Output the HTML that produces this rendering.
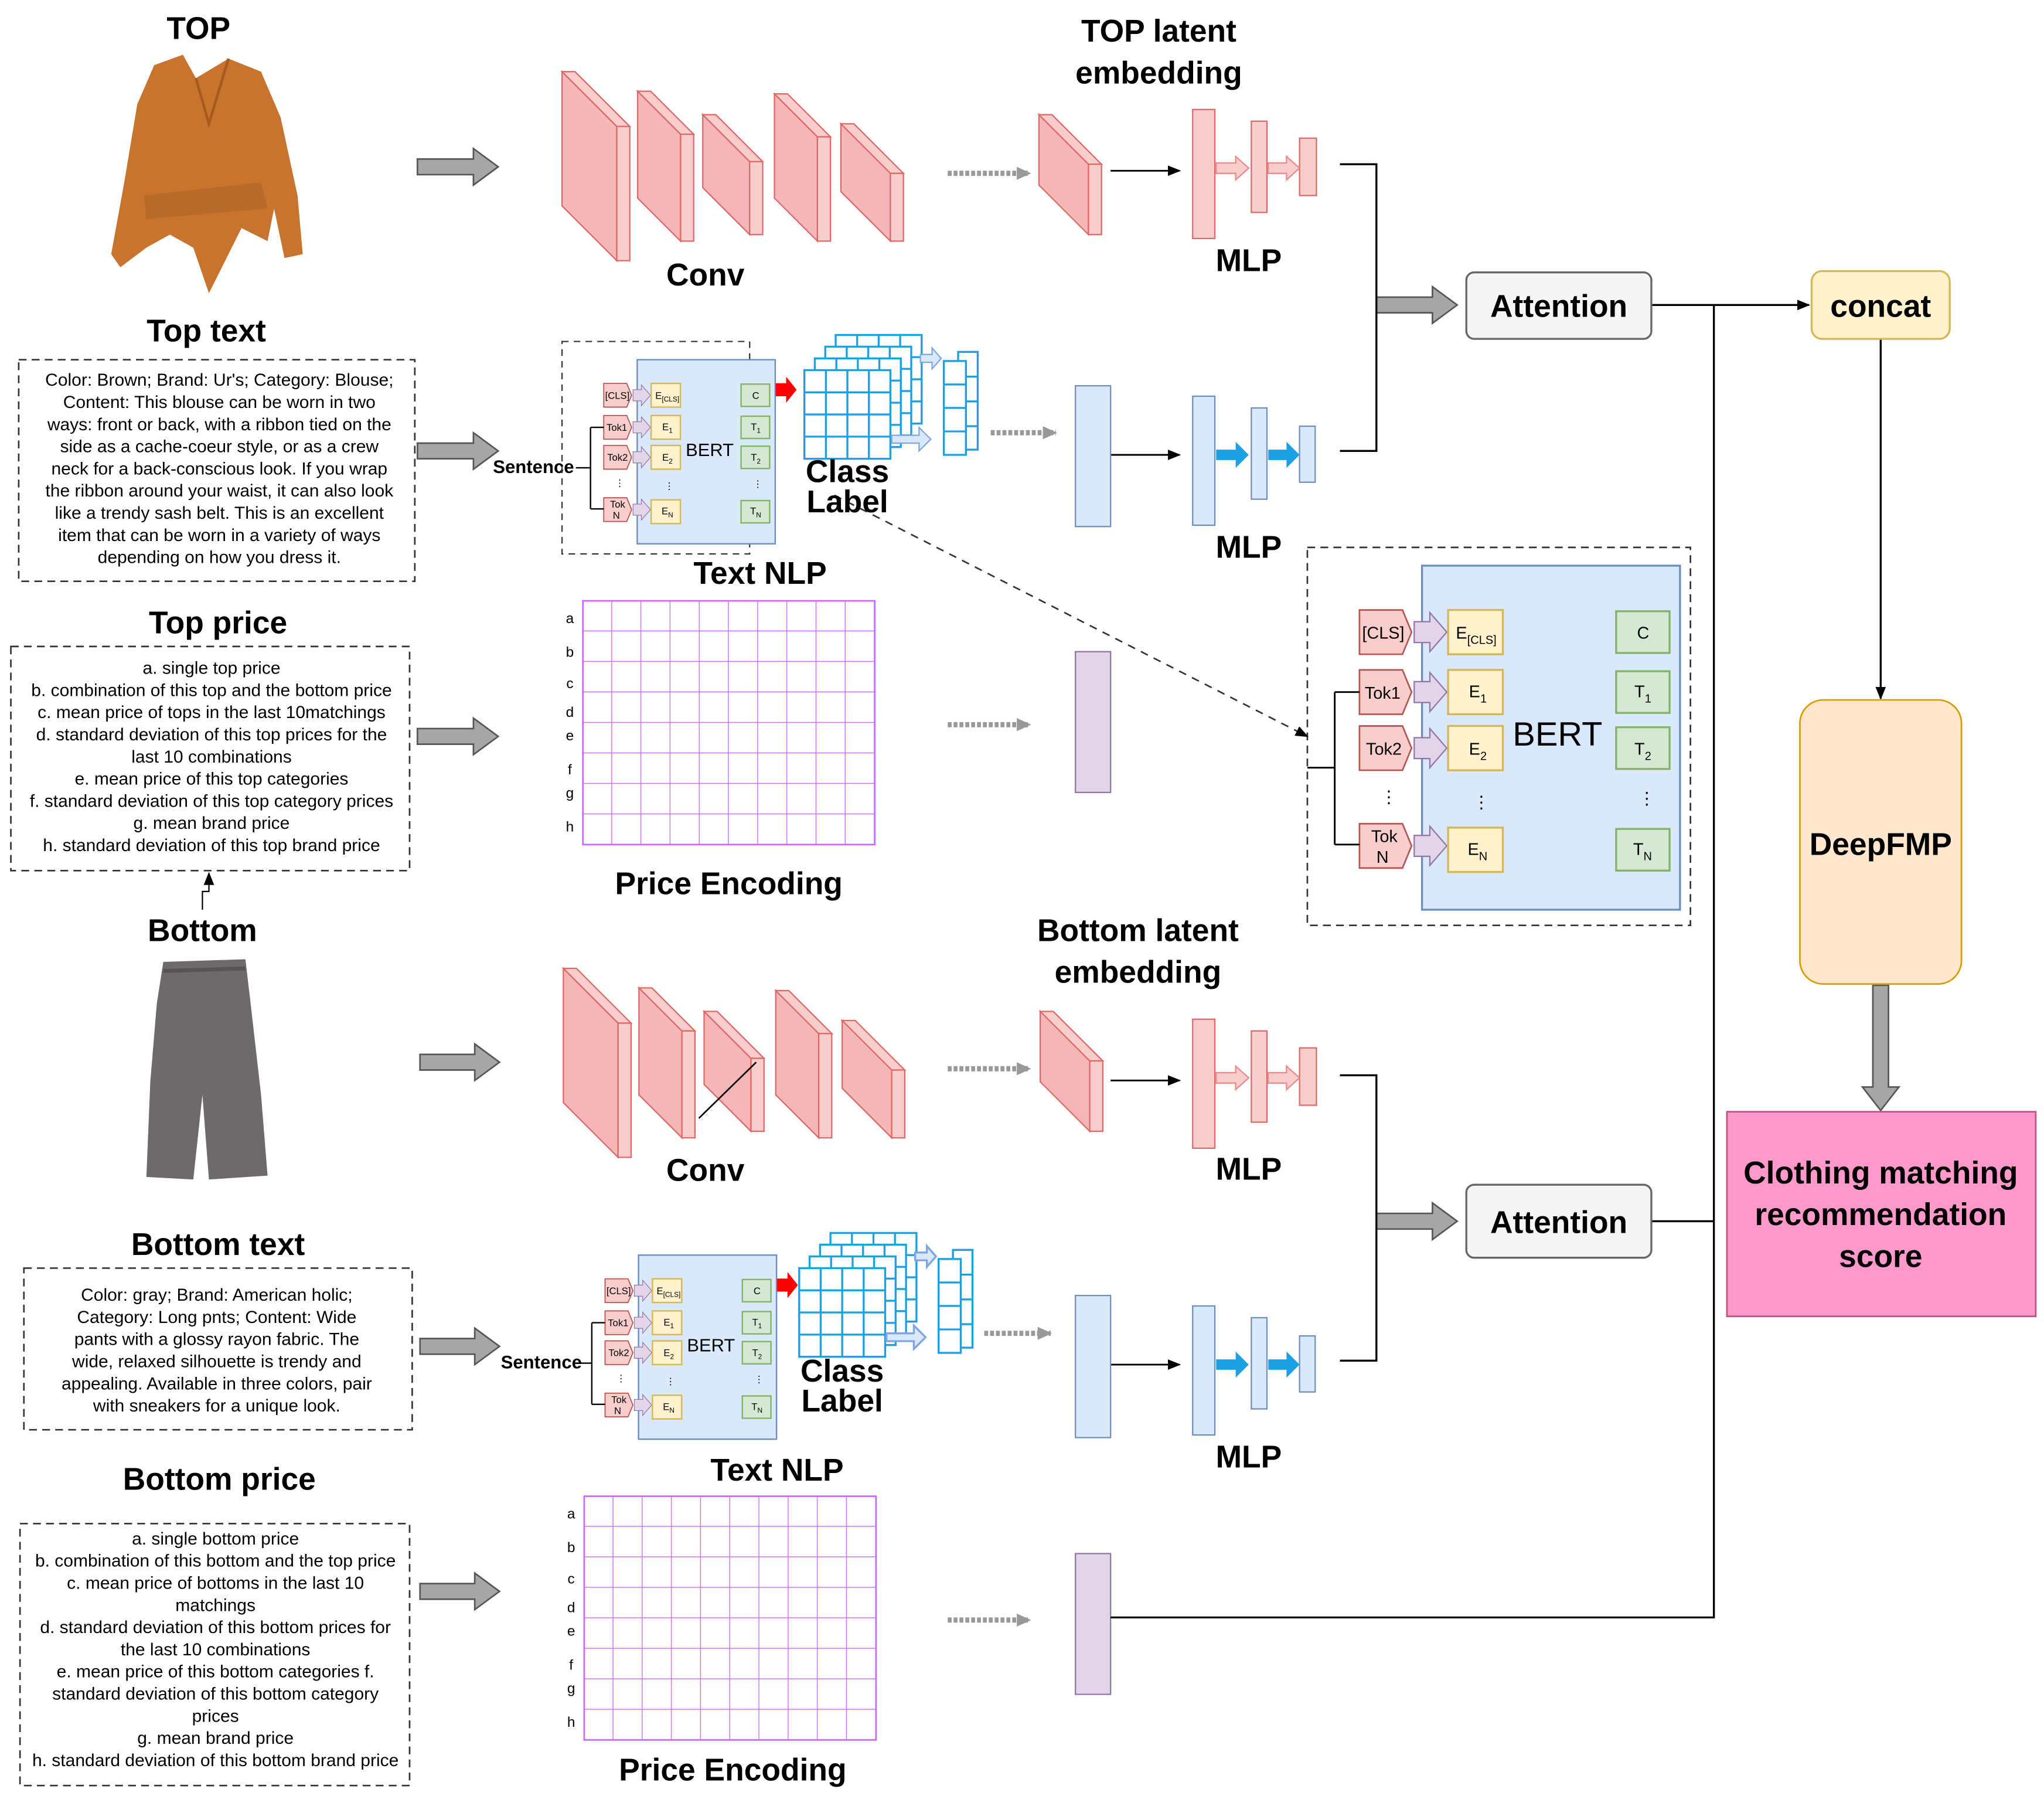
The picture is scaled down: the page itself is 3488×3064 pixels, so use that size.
<!DOCTYPE html>
<html><head><meta charset="utf-8"><style>
html,body{margin:0;padding:0;background:#fff}
svg{display:block}
text{font-family:"Liberation Sans",Arial,sans-serif}
.h{font-weight:bold;font-size:24px;text-anchor:middle}
.t{font-size:13.5px;text-anchor:middle}
.sm{font-size:10px}
</style></head><body>
<svg width="3488" height="3064" viewBox="0 0 1568 1378" xmlns="http://www.w3.org/2000/svg">
<defs>
<pattern id="pg" x="447" y="461" width="22.4" height="23.4" patternUnits="userSpaceOnUse"><path d="M22.4 0V23.4M0 23.4H22.4" stroke="#cc66ff" stroke-width="1.2" fill="none"/></pattern>
<pattern id="pg2" x="448" y="1148" width="22.4" height="23.4" patternUnits="userSpaceOnUse"><path d="M22.4 0V23.4M0 23.4H22.4" stroke="#cc66ff" stroke-width="1.2" fill="none"/></pattern>
<marker id="ah" markerWidth="10" markerHeight="10" refX="9" refY="5" orient="auto" markerUnits="userSpaceOnUse"><path d="M0 1L10 5L0 9z" fill="#000"/></marker>
<marker id="ag" markerWidth="12" markerHeight="12" refX="10" refY="6" orient="auto" markerUnits="userSpaceOnUse"><path d="M0 1L11 6L0 11z" fill="#999"/></marker>
</defs>

<!-- headings -->
<text class="h" x="152" y="30" font-size="26">TOP</text>
<text class="h" x="158" y="262" font-size="26">Top text</text>
<text class="h" x="167" y="486" font-size="26">Top price</text>
<text class="h" x="155" y="722" font-size="26">Bottom</text>
<text class="h" x="167" y="963" font-size="26">Bottom text</text>
<text class="h" x="168" y="1143" font-size="26">Bottom price</text>
<text class="h" x="889" y="32" font-size="26">TOP latent</text>
<text class="h" x="889" y="64" font-size="26">embedding</text>
<text class="h" x="873" y="722" font-size="26">Bottom latent</text>
<text class="h" x="873" y="754" font-size="26">embedding</text>
<text class="h" x="541" y="219" font-size="26">Conv</text>
<text class="h" x="541" y="906" font-size="26">Conv</text>
<text class="h" x="958" y="208" font-size="25">MLP</text>
<text class="h" x="958" y="428" font-size="25">MLP</text>
<text class="h" x="958" y="905" font-size="25">MLP</text>
<text class="h" x="958" y="1126" font-size="25">MLP</text>
<text class="h" x="583" y="448" font-size="25">Text NLP</text>
<text class="h" x="596" y="1136" font-size="25">Text NLP</text>
<text class="h" x="559" y="686" font-size="25">Price Encoding</text>
<text class="h" x="562" y="1366" font-size="25">Price Encoding</text>

<!-- top shirt -->
<path d="M118 50 L140 42 L150 60 L175 45 L200 55 L215 90 L228 150 L232 195 L218 198 L210 160 L205 185 L185 175 L170 205 L160 225 L148 190 L130 180 L112 190 L92 205 L85 195 L95 140 L105 80 Z" fill="#c8742e"/>
<path d="M150 60 L160 95 L175 45" fill="none" stroke="#a55a1e" stroke-width="2"/>
<path d="M110 150 L200 140 L205 160 L112 168Z" fill="#b86a28"/>
<!-- pants -->
<path d="M125 738 L188 736 L192 770 L200 840 L205 902 L160 905 L155 840 L148 905 L112 903 L115 830 L120 770 Z" fill="#6e6a6c"/>
<path d="M125 745 L188 743" stroke="#555" stroke-width="3"/>

<!-- text boxes -->
<g fill="none" stroke="#333" stroke-dasharray="6 4" stroke-width="1.2">
<rect x="14" y="276" width="304" height="170"/>
<rect x="8" y="496" width="306" height="172"/>
<rect x="18" y="973" width="298" height="124"/>
<rect x="15" y="1169" width="299" height="201"/>
</g>
<g class="t">
<text x="168" y="296">Color: Brown; Brand: Ur's; Category: Blouse;</text>
<text x="168" y="313">Content: This blouse can be worn in two</text>
<text x="168" y="330">ways: front or back, with a ribbon tied on the</text>
<text x="168" y="347">side as a cache-coeur style, or as a crew</text>
<text x="168" y="364">neck for a back-conscious look. If you wrap</text>
<text x="168" y="381">the ribbon around your waist, it can also look</text>
<text x="168" y="398">like a trendy sash belt. This is an excellent</text>
<text x="168" y="415">item that can be worn in a variety of ways</text>
<text x="168" y="432">depending on how you dress it.</text>

<text x="162" y="517">a. single top price</text>
<text x="162" y="534">b. combination of this top and the bottom price</text>
<text x="162" y="551">c. mean price of tops in the last 10matchings</text>
<text x="162" y="568">d. standard deviation of this top prices for the</text>
<text x="162" y="585">last 10 combinations</text>
<text x="162" y="602">e. mean price of this top categories</text>
<text x="162" y="619">f. standard deviation of this top category prices</text>
<text x="162" y="636">g. mean brand price</text>
<text x="162" y="653">h. standard deviation of this top brand price</text>

<text x="166" y="998">Color: gray; Brand: American holic;</text>
<text x="166" y="1015">Category: Long pnts; Content: Wide</text>
<text x="166" y="1032">pants with a glossy rayon fabric. The</text>
<text x="166" y="1049">wide, relaxed silhouette is trendy and</text>
<text x="166" y="1066">appealing. Available in three colors, pair</text>
<text x="166" y="1083">with sneakers for a unique look.</text>

<text x="165" y="1185">a. single bottom price</text>
<text x="165" y="1202">b. combination of this bottom and the top price</text>
<text x="165" y="1219">c. mean price of bottoms in the last 10</text>
<text x="165" y="1236">matchings</text>
<text x="165" y="1253">d. standard deviation of this bottom prices for</text>
<text x="165" y="1270">the last 10 combinations</text>
<text x="165" y="1287">e. mean price of this bottom categories f.</text>
<text x="165" y="1304">standard deviation of this bottom category</text>
<text x="165" y="1321">prices</text>
<text x="165" y="1338">g. mean brand price</text>
<text x="165" y="1355">h. standard deviation of this bottom brand price</text>
</g>
<path d="M155 698 V684 H160 V670" fill="none" stroke="#000" marker-end="url(#ah)"/>

<!-- big gray arrows -->
<g fill="#a6a6a6" stroke="#555" stroke-width="1.2">
<path d="M320 122 H363 V114 L382 128 L363 142 V134 H320Z"/>
<path d="M320 340 H363 V332 L382 346 L363 360 V352 H320Z"/>
<path d="M320 559 H363 V551 L382 565 L363 579 V571 H320Z"/>
<path d="M322 809 H364 V801 L383 815 L364 829 V821 H322Z"/>
<path d="M322 1027 H364 V1019 L383 1033 L364 1047 V1039 H322Z"/>
<path d="M322 1215 H364 V1207 L383 1221 L364 1235 V1227 H322Z"/>
<path d="M1056 228 H1099 V220 L1118 234 L1099 248 V240 H1056Z"/>
<path d="M1056 931 H1099 V923 L1118 937 L1099 951 V943 H1056Z"/>
<path d="M1437 756 V834 H1429 L1443 852 L1457 834 H1449 V756Z"/>
</g>
<text x="378" y="363" font-size="14" font-weight="bold">Sentence</text>
<text x="384" y="1050" font-size="14" font-weight="bold">Sentence</text>

<!-- conv slabs -->
<g fill="#f4b6b6" stroke="#e06666" stroke-width="1">
<g><path d="M431 55 L473 97 V200 L431 158Z"/><path d="M431 55 L441 55 L483 97 L473 97Z" fill="#f8cecc"/><rect x="473" y="97" width="10" height="103" fill="#f8cecc"/></g>
<g><path d="M489 70 L522 103 V185 L489 152Z"/><path d="M489 70 L499 70 L532 103 L522 103Z" fill="#f8cecc"/><rect x="522" y="103" width="10" height="82" fill="#f8cecc"/></g>
<g><path d="M539 88 L575 124 V180 L539 144Z"/><path d="M539 88 L549 88 L585 124 L575 124Z" fill="#f8cecc"/><rect x="575" y="124" width="10" height="56" fill="#f8cecc"/></g>
<g><path d="M594 72 L627 105 V185 L594 152Z"/><path d="M594 72 L604 72 L637 105 L627 105Z" fill="#f8cecc"/><rect x="627" y="105" width="10" height="80" fill="#f8cecc"/></g>
<g><path d="M645 95 L683 133 V185 L645 147Z"/><path d="M645 95 L655 95 L693 133 L683 133Z" fill="#f8cecc"/><rect x="683" y="133" width="10" height="52" fill="#f8cecc"/></g>
<g><path d="M797 88 L835 126 V180 L797 142Z"/><path d="M797 88 L807 88 L845 126 L835 126Z" fill="#f8cecc"/><rect x="835" y="126" width="10" height="54" fill="#f8cecc"/></g>
</g>
<g fill="#f4b6b6" stroke="#e06666" stroke-width="1" transform="translate(1,688)">
<path d="M431 55 L473 97 V200 L431 158Z"/><path d="M431 55 L441 55 L483 97 L473 97Z" fill="#f8cecc"/><rect x="473" y="97" width="10" height="103" fill="#f8cecc"/>
<path d="M489 70 L522 103 V185 L489 152Z"/><path d="M489 70 L499 70 L532 103 L522 103Z" fill="#f8cecc"/><rect x="522" y="103" width="10" height="82" fill="#f8cecc"/>
<path d="M539 88 L575 124 V180 L539 144Z"/><path d="M539 88 L549 88 L585 124 L575 124Z" fill="#f8cecc"/><rect x="575" y="124" width="10" height="56" fill="#f8cecc"/>
<path d="M594 72 L627 105 V185 L594 152Z"/><path d="M594 72 L604 72 L637 105 L627 105Z" fill="#f8cecc"/><rect x="627" y="105" width="10" height="80" fill="#f8cecc"/>
<path d="M645 95 L683 133 V185 L645 147Z"/><path d="M645 95 L655 95 L693 133 L683 133Z" fill="#f8cecc"/><rect x="683" y="133" width="10" height="52" fill="#f8cecc"/>
<path d="M797 88 L835 126 V180 L797 142Z"/><path d="M797 88 L807 88 L845 126 L835 126Z" fill="#f8cecc"/><rect x="835" y="126" width="10" height="54" fill="#f8cecc"/>
</g>
<line x1="536" y1="858" x2="580" y2="815" stroke="#000" stroke-width="1.2"/>

<!-- dotted arrows -->
<g stroke="#999" stroke-width="4" stroke-dasharray="3 1.5" fill="none" marker-end="url(#ag)">
<line x1="727" y1="133" x2="790" y2="133"/>
<line x1="760" y1="332" x2="810" y2="332"/>
<line x1="727" y1="556" x2="790" y2="556"/>
<line x1="727" y1="820" x2="790" y2="820"/>
<line x1="755" y1="1023" x2="806" y2="1023"/>
<line x1="727" y1="1243" x2="790" y2="1243"/>
</g>

<!-- MLP stacks -->
<g stroke="#000" stroke-width="1.3" marker-end="url(#ah)">
<line x1="852" y1="131" x2="905" y2="131"/>
<line x1="852" y1="349" x2="905" y2="349"/>
<line x1="852" y1="829" x2="905" y2="829"/>
<line x1="852" y1="1047" x2="905" y2="1047"/>
</g>
<g fill="#f8cecc" stroke="#e06666">
<rect x="915" y="84" width="17" height="99"/><rect x="960" y="93" width="12" height="70"/><rect x="997" y="106" width="13" height="44"/>
<rect x="915" y="782" width="17" height="99"/><rect x="960" y="791" width="12" height="70"/><rect x="997" y="804" width="13" height="44"/>
</g>
<g fill="#f8cecc" stroke="#e88" stroke-width="1">
<path d="M933 125 H948 V120 L958 129 L948 138 V133 H933Z"/><path d="M973 125 H987 V120 L997 129 L987 138 V133 H973Z"/>
<path d="M933 823 H948 V818 L958 827 L948 836 V831 H933Z"/><path d="M973 823 H987 V818 L997 827 L987 836 V831 H973Z"/>
</g>
<g fill="#dae8fc" stroke="#6c8ebf">
<rect x="825" y="296" width="27" height="108"/>
<rect x="915" y="304" width="17" height="99"/><rect x="960" y="313" width="12" height="70"/><rect x="997" y="327" width="12" height="43"/>
<rect x="825" y="994" width="27" height="109"/>
<rect x="915" y="1002" width="17" height="99"/><rect x="960" y="1011" width="12" height="70"/><rect x="997" y="1025" width="12" height="43"/>
</g>
<g fill="#1ba1e2">
<path d="M933 345 H948 V339 L958 349 L948 359 V353 H933Z"/><path d="M973 345 H987 V339 L997 349 L987 359 V353 H973Z"/>
<path d="M933 1043 H948 V1037 L958 1047 L948 1057 V1051 H933Z"/><path d="M973 1043 H987 V1037 L997 1047 L987 1057 V1051 H973Z"/>
</g>
<g fill="#e1d5e7" stroke="#9673a6">
<rect x="825" y="500" width="27" height="108"/>
<rect x="825" y="1192" width="27" height="108"/>
</g>

<!-- price grids -->
<rect x="447" y="461" width="224" height="187" fill="url(#pg)" stroke="#cc66ff" stroke-width="1.2"/>
<rect x="448" y="1148" width="224" height="187" fill="url(#pg2)" stroke="#cc66ff" stroke-width="1.2"/>
<g font-size="11" text-anchor="middle">
<text x="437" y="478">a</text><text x="437" y="504">b</text><text x="437" y="528">c</text><text x="437" y="550">d</text><text x="437" y="568">e</text><text x="437" y="594">f</text><text x="437" y="612">g</text><text x="437" y="638">h</text>
<text x="438" y="1165">a</text><text x="438" y="1191">b</text><text x="438" y="1215">c</text><text x="438" y="1237">d</text><text x="438" y="1255">e</text><text x="438" y="1281">f</text><text x="438" y="1299">g</text><text x="438" y="1325">h</text>
</g>

<!-- brackets / connectors -->
<g fill="none" stroke="#000" stroke-width="1.5">
<path d="M1028 126 H1056 V346 H1028"/>
<path d="M1028 825 H1056 V1044 H1028"/>
<path d="M1267 937 H1315"/>
<path d="M1315 234 V1241 H852"/>
</g>
<path d="M1267 234 H1388" stroke="#000" stroke-width="1.5" marker-end="url(#ah)"/>
<path d="M1443 260 V536" stroke="#000" stroke-width="1.5" marker-end="url(#ah)"/>

<rect x="1125" y="209" width="142" height="51" rx="6" fill="#f5f5f5" stroke="#666" stroke-width="1.5"/>
<text class="h" x="1196" y="243" font-size="26">Attention</text>
<rect x="1125" y="909" width="142" height="56" rx="6" fill="#f5f5f5" stroke="#666" stroke-width="1.5"/>
<text class="h" x="1196" y="946" font-size="26">Attention</text>
<rect x="1390" y="208" width="106" height="52" rx="8" fill="#fff2cc" stroke="#d6b656" stroke-width="1.5"/>
<text class="h" x="1443" y="243" font-size="24">concat</text>
<rect x="1381" y="537" width="124" height="218" rx="18" fill="#ffe6cc" stroke="#d79b00" stroke-width="1.2"/>
<text class="h" x="1443" y="656" font-size="25">DeepFMP</text>
<rect x="1325" y="853" width="237" height="157" fill="#ff99cc" stroke="#c0507f" stroke-width="1.2"/>
<text class="h" x="1443" y="908" font-size="26">Clothing matching</text>
<text class="h" x="1443" y="940" font-size="26">recommendation</text>
<text class="h" x="1443" y="972" font-size="26">score</text>

<!-- big BERT -->
<rect x="1003" y="420" width="294" height="290" fill="none" stroke="#333" stroke-dasharray="6 4" stroke-width="1.2"/>
<path d="M640 380 L1003 565" stroke="#333" stroke-dasharray="6 5" fill="none" stroke-width="1.2" marker-end="url(#ah)"/>
<g>
<rect x="1091" y="434" width="198" height="264" fill="#dae8fc" stroke="#6c8ebf" stroke-width="1.5"/>
<g fill="#f8cecc" stroke="#b85450" stroke-width="1.2">
<path d="M1043 468 H1076 L1083 485 L1076 502 H1043Z"/>
<path d="M1043 514 H1076 L1083 531 L1076 548 H1043Z"/>
<path d="M1043 557 H1076 L1083 574 L1076 591 H1043Z"/>
<path d="M1043 632 H1076 L1083 649 L1076 666 H1043Z"/>
</g>
<g fill="#e1d5e7" stroke="#9673a6">
<path d="M1085 477 H1097 V470 L1110 485 L1097 500 V493 H1085Z"/>
<path d="M1085 523 H1097 V516 L1110 531 L1097 546 V539 H1085Z"/>
<path d="M1085 566 H1097 V559 L1110 574 L1097 589 V582 H1085Z"/>
<path d="M1085 641 H1097 V634 L1110 649 L1097 664 V657 H1085Z"/>
</g>
<g fill="#fff2cc" stroke="#d6b656" stroke-width="1.5">
<rect x="1111" y="468" width="42" height="34"/><rect x="1111" y="514" width="42" height="34"/><rect x="1111" y="557" width="42" height="34"/><rect x="1111" y="635" width="42" height="34"/>
</g>
<g fill="#d5e8d4" stroke="#82b366" stroke-width="1.5">
<rect x="1240" y="469" width="41" height="32"/><rect x="1240" y="515" width="41" height="32"/><rect x="1240" y="558" width="41" height="32"/><rect x="1240" y="636" width="41" height="32"/>
</g>
<path d="M1003 589 H1024 M1024 531 V648 M1024 531 H1043 M1024 648 H1043" stroke="#000" stroke-width="1.3" fill="none"/>
<g font-size="13">
<text x="1045" y="490">[CLS]</text><text x="1047" y="536">Tok1</text><text x="1048" y="579">Tok2</text>
<text x="1052" y="646">Tok</text><text x="1056" y="662">N</text>
<text x="1117" y="490">E<tspan font-size="9" dy="4">[CLS]</tspan></text>
<text x="1127" y="535">E<tspan font-size="9" dy="4">1</tspan></text>
<text x="1127" y="579">E<tspan font-size="9" dy="4">2</tspan></text>
<text x="1126" y="656">E<tspan font-size="9" dy="4">N</tspan></text>
<text x="1256" y="490">C</text>
<text x="1254" y="535">T<tspan font-size="9" dy="4">1</tspan></text>
<text x="1254" y="579">T<tspan font-size="9" dy="4">2</tspan></text>
<text x="1253" y="656">T<tspan font-size="9" dy="4">N</tspan></text>
<text x="1059" y="616">⋮</text><text x="1130" y="620">⋮</text><text x="1257" y="617">⋮</text>
</g>
<text x="1195" y="572" font-size="26" text-anchor="middle">BERT</text>
</g>

<!-- small BERT top -->
<rect x="431" y="262" width="144" height="163" fill="none" stroke="#333" stroke-dasharray="5 4" stroke-width="1"/>
<g transform="matrix(0.535 0 0 0.535 -95 43.8)">
<rect x="1091" y="434" width="198" height="264" fill="#dae8fc" stroke="#6c8ebf" stroke-width="2"/>
<g fill="#f8cecc" stroke="#b85450" stroke-width="1.5">
<path d="M1043 468 H1076 L1083 485 L1076 502 H1043Z"/><path d="M1043 514 H1076 L1083 531 L1076 548 H1043Z"/><path d="M1043 557 H1076 L1083 574 L1076 591 H1043Z"/><path d="M1043 632 H1076 L1083 649 L1076 666 H1043Z"/>
</g>
<g fill="#e1d5e7" stroke="#9673a6">
<path d="M1085 477 H1097 V470 L1110 485 L1097 500 V493 H1085Z"/><path d="M1085 523 H1097 V516 L1110 531 L1097 546 V539 H1085Z"/><path d="M1085 566 H1097 V559 L1110 574 L1097 589 V582 H1085Z"/><path d="M1085 641 H1097 V634 L1110 649 L1097 664 V657 H1085Z"/>
</g>
<g fill="#fff2cc" stroke="#d6b656" stroke-width="2"><rect x="1111" y="468" width="42" height="34"/><rect x="1111" y="514" width="42" height="34"/><rect x="1111" y="557" width="42" height="34"/><rect x="1111" y="635" width="42" height="34"/></g>
<g fill="#d5e8d4" stroke="#82b366" stroke-width="2"><rect x="1240" y="469" width="41" height="32"/><rect x="1240" y="515" width="41" height="32"/><rect x="1240" y="558" width="41" height="32"/><rect x="1240" y="636" width="41" height="32"/></g>
<path d="M1003 589 H1024 M1024 531 V648 M1024 531 H1043 M1024 648 H1043" stroke="#000" stroke-width="2" fill="none"/>
<g font-size="14"><text x="1045" y="490">[CLS]</text><text x="1047" y="536">Tok1</text><text x="1048" y="579">Tok2</text><text x="1052" y="646">Tok</text><text x="1056" y="662">N</text>
<text x="1117" y="490">E<tspan font-size="10" dy="4">[CLS]</tspan></text><text x="1127" y="535">E<tspan font-size="10" dy="4">1</tspan></text><text x="1127" y="579">E<tspan font-size="10" dy="4">2</tspan></text><text x="1126" y="656">E<tspan font-size="10" dy="4">N</tspan></text>
<text x="1256" y="490">C</text><text x="1254" y="535">T<tspan font-size="10" dy="4">1</tspan></text><text x="1254" y="579">T<tspan font-size="10" dy="4">2</tspan></text><text x="1253" y="656">T<tspan font-size="10" dy="4">N</tspan></text>
<text x="1059" y="616">⋮</text><text x="1130" y="620">⋮</text><text x="1257" y="617">⋮</text></g>
<text x="1195" y="572" font-size="26" text-anchor="middle">BERT</text>
</g>

<!-- small BERT bottom -->
<g transform="matrix(0.535 0 0 0.535 -94 730.8)">
<rect x="1091" y="434" width="198" height="264" fill="#dae8fc" stroke="#6c8ebf" stroke-width="2"/>
<g fill="#f8cecc" stroke="#b85450" stroke-width="1.5">
<path d="M1043 468 H1076 L1083 485 L1076 502 H1043Z"/><path d="M1043 514 H1076 L1083 531 L1076 548 H1043Z"/><path d="M1043 557 H1076 L1083 574 L1076 591 H1043Z"/><path d="M1043 632 H1076 L1083 649 L1076 666 H1043Z"/>
</g>
<g fill="#e1d5e7" stroke="#9673a6">
<path d="M1085 477 H1097 V470 L1110 485 L1097 500 V493 H1085Z"/><path d="M1085 523 H1097 V516 L1110 531 L1097 546 V539 H1085Z"/><path d="M1085 566 H1097 V559 L1110 574 L1097 589 V582 H1085Z"/><path d="M1085 641 H1097 V634 L1110 649 L1097 664 V657 H1085Z"/>
</g>
<g fill="#fff2cc" stroke="#d6b656" stroke-width="2"><rect x="1111" y="468" width="42" height="34"/><rect x="1111" y="514" width="42" height="34"/><rect x="1111" y="557" width="42" height="34"/><rect x="1111" y="635" width="42" height="34"/></g>
<g fill="#d5e8d4" stroke="#82b366" stroke-width="2"><rect x="1240" y="469" width="41" height="32"/><rect x="1240" y="515" width="41" height="32"/><rect x="1240" y="558" width="41" height="32"/><rect x="1240" y="636" width="41" height="32"/></g>
<path d="M1003 589 H1024 M1024 531 V648 M1024 531 H1043 M1024 648 H1043" stroke="#000" stroke-width="2" fill="none"/>
<g font-size="14"><text x="1045" y="490">[CLS]</text><text x="1047" y="536">Tok1</text><text x="1048" y="579">Tok2</text><text x="1052" y="646">Tok</text><text x="1056" y="662">N</text>
<text x="1117" y="490">E<tspan font-size="10" dy="4">[CLS]</tspan></text><text x="1127" y="535">E<tspan font-size="10" dy="4">1</tspan></text><text x="1127" y="579">E<tspan font-size="10" dy="4">2</tspan></text><text x="1126" y="656">E<tspan font-size="10" dy="4">N</tspan></text>
<text x="1256" y="490">C</text><text x="1254" y="535">T<tspan font-size="10" dy="4">1</tspan></text><text x="1254" y="579">T<tspan font-size="10" dy="4">2</tspan></text><text x="1253" y="656">T<tspan font-size="10" dy="4">N</tspan></text>
<text x="1059" y="616">⋮</text><text x="1130" y="620">⋮</text><text x="1257" y="617">⋮</text></g>
<text x="1195" y="572" font-size="26" text-anchor="middle">BERT</text>
</g>

<!-- class label grids top -->
<g fill="#fff" stroke="#1ba1e2" stroke-width="1.5">
<g transform="translate(24,-27)"><rect x="617" y="284" width="66" height="68"/><path d="M633.5 284V352M650 284V352M666.5 284V352M617 301H683M617 318H683M617 335H683"/></g>
<g transform="translate(16,-18)"><rect x="617" y="284" width="66" height="68"/><path d="M633.5 284V352M650 284V352M666.5 284V352M617 301H683M617 318H683M617 335H683"/></g>
<g transform="translate(8,-9)"><rect x="617" y="284" width="66" height="68"/><path d="M633.5 284V352M650 284V352M666.5 284V352M617 301H683M617 318H683M617 335H683"/></g>
<rect x="617" y="284" width="66" height="68"/><path d="M633.5 284V352M650 284V352M666.5 284V352M617 301H683M617 318H683M617 335H683"/>
<rect x="735" y="270" width="15" height="75"/><path d="M735 289H750M735 308H750M735 327H750"/>
<rect x="724" y="277" width="17" height="72"/><path d="M724 295H741M724 313H741M724 331H741"/>
</g>
<g fill="#dae8fc" stroke="#7ea6e0"><path d="M706 272 H715 V267 L722 275 L715 283 V278 H706Z"/><path d="M684 334 H705 V328 L714 337 L705 346 V340 H684Z"/></g>
<path d="M595 294 H603 V289 L611 299 L603 309 V304 H595Z" fill="#f00"/>
<text class="h" x="650" y="370" font-size="17">Class</text>
<text class="h" x="650" y="393" font-size="17">Label</text>

<!-- class label grids bottom -->
<g fill="#fff" stroke="#1ba1e2" stroke-width="1.5" transform="translate(-4,689)">
<g transform="translate(24,-27)"><rect x="617" y="284" width="66" height="68"/><path d="M633.5 284V352M650 284V352M666.5 284V352M617 301H683M617 318H683M617 335H683"/></g>
<g transform="translate(16,-18)"><rect x="617" y="284" width="66" height="68"/><path d="M633.5 284V352M650 284V352M666.5 284V352M617 301H683M617 318H683M617 335H683"/></g>
<g transform="translate(8,-9)"><rect x="617" y="284" width="66" height="68"/><path d="M633.5 284V352M650 284V352M666.5 284V352M617 301H683M617 318H683M617 335H683"/></g>
<rect x="617" y="284" width="66" height="68"/><path d="M633.5 284V352M650 284V352M666.5 284V352M617 301H683M617 318H683M617 335H683"/>
<rect x="735" y="270" width="15" height="75"/><path d="M735 289H750M735 308H750M735 327H750"/>
<rect x="724" y="277" width="17" height="72"/><path d="M724 295H741M724 313H741M724 331H741"/>
<g fill="#dae8fc" stroke="#7ea6e0"><path d="M706 272 H715 V267 L722 275 L715 283 V278 H706Z"/><path d="M684 334 H705 V328 L714 337 L705 346 V340 H684Z"/></g>
</g>
<path d="M596 981 H604 V976 L612 986 L604 996 V991 H596Z" fill="#f00"/>
<text class="h" x="646" y="1060" font-size="17">Class</text>
<text class="h" x="646" y="1083" font-size="17">Label</text>
</svg>
</body></html>
